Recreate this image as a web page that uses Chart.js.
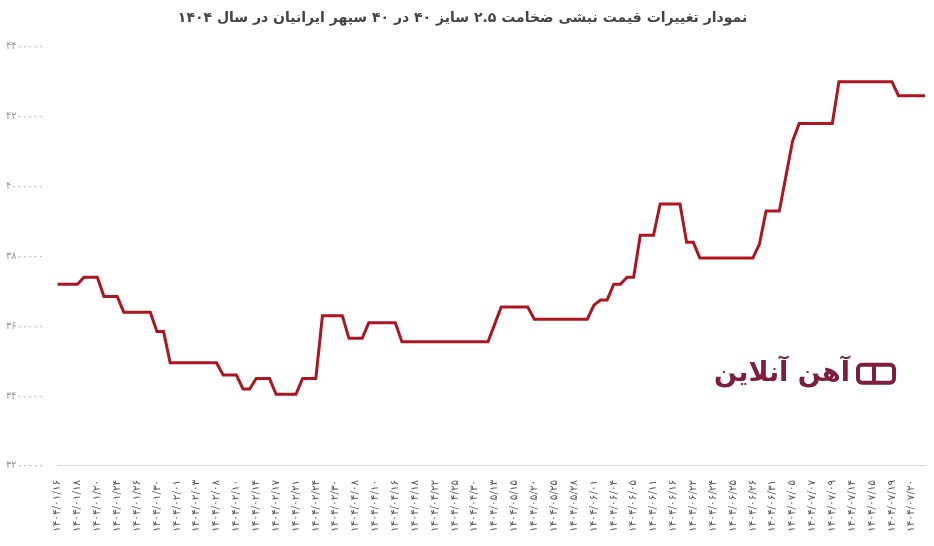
<!DOCTYPE html>
<html lang="fa">
<head>
<meta charset="utf-8">
<script src="https://cdn.jsdelivr.net/npm/chart.js@4.4.1/dist/chart.umd.min.js"></script>
<style>
  html, body { margin: 0; padding: 0; background: #fff; }
  #wrap { width: 934px; height: 546px; position: relative; }
</style>
</head>
<body>
<div id="wrap"><canvas id="priceChart"></canvas></div>
<script>
const chartTitle = 'نمودار تغییرات قیمت نبشی ضخامت ۲.۵ سایز ۴۰ در ۴۰ سپهر ایرانیان در سال ۱۴۰۴';

// one label every third reading, as printed under the axis
const tickLabels = [
    '۱۴۰۴/۰۱/۱۶', '۱۴۰۴/۰۱/۱۸', '۱۴۰۴/۰۱/۲۰', '۱۴۰۴/۰۱/۲۴', '۱۴۰۴/۰۱/۲۶',
    '۱۴۰۴/۰۱/۳۰', '۱۴۰۴/۰۲/۰۱', '۱۴۰۴/۰۲/۰۳', '۱۴۰۴/۰۲/۰۸', '۱۴۰۴/۰۲/۱۰',
    '۱۴۰۴/۰۲/۱۴', '۱۴۰۴/۰۲/۱۷', '۱۴۰۴/۰۲/۲۱', '۱۴۰۴/۰۲/۲۴', '۱۴۰۴/۰۲/۳۰',
    '۱۴۰۴/۰۴/۰۸', '۱۴۰۴/۰۴/۱۰', '۱۴۰۴/۰۴/۱۶', '۱۴۰۴/۰۴/۱۸', '۱۴۰۴/۰۴/۲۲',
    '۱۴۰۴/۰۴/۲۵', '۱۴۰۴/۰۴/۳۰', '۱۴۰۴/۰۵/۱۳', '۱۴۰۴/۰۵/۱۵', '۱۴۰۴/۰۵/۲۰',
    '۱۴۰۴/۰۵/۲۵', '۱۴۰۴/۰۵/۲۸', '۱۴۰۴/۰۶/۰۱', '۱۴۰۴/۰۶/۰۴', '۱۴۰۴/۰۶/۰۵',
    '۱۴۰۴/۰۶/۱۱', '۱۴۰۴/۰۶/۱۶', '۱۴۰۴/۰۶/۲۲', '۱۴۰۴/۰۶/۲۴', '۱۴۰۴/۰۶/۲۵',
    '۱۴۰۴/۰۶/۲۶', '۱۴۰۴/۰۶/۳۱', '۱۴۰۴/۰۷/۰۵', '۱۴۰۴/۰۷/۰۷', '۱۴۰۴/۰۷/۰۹',
    '۱۴۰۴/۰۷/۱۴', '۱۴۰۴/۰۷/۱۵', '۱۴۰۴/۰۷/۱۹', '۱۴۰۴/۰۷/۲۰'];

// price in rial
const prices = [
    3720000, 3720000, 3720000, 3720000, 3740000, 3740000, 3740000, 3685000, 3685000, 3685000,
    3640000, 3640000, 3640000, 3640000, 3640000, 3585000, 3585000, 3495000, 3495000, 3495000,
    3495000, 3495000, 3495000, 3495000, 3495000, 3460000, 3460000, 3460000, 3420000, 3420000,
    3450000, 3450000, 3450000, 3405000, 3405000, 3405000, 3405000, 3450000, 3450000, 3450000,
    3630000, 3630000, 3630000, 3630000, 3565000, 3565000, 3565000, 3610000, 3610000, 3610000,
    3610000, 3610000, 3555000, 3555000, 3555000, 3555000, 3555000, 3555000, 3555000, 3555000,
    3555000, 3555000, 3555000, 3555000, 3555000, 3555000, 3605000, 3655000, 3655000, 3655000,
    3655000, 3655000, 3620000, 3620000, 3620000, 3620000, 3620000, 3620000, 3620000, 3620000,
    3620000, 3660000, 3675000, 3675000, 3720000, 3720000, 3740000, 3740000, 3860000, 3860000,
    3860000, 3950000, 3950000, 3950000, 3950000, 3840000, 3840000, 3795000, 3795000, 3795000,
    3795000, 3795000, 3795000, 3795000, 3795000, 3795000, 3835000, 3930000, 3930000, 3930000,
    4030000, 4130000, 4180000, 4180000, 4180000, 4180000, 4180000, 4180000, 4300000, 4300000,
    4300000, 4300000, 4300000, 4300000, 4300000, 4300000, 4300000, 4260000, 4260000, 4260000,
    4260000, 4260000];

const labelStep = 3;
const faDigits = '۰۱۲۳۴۵۶۷۸۹';
const toFa = (n) => String(n).replace(/\d/g, d => faDigits[d]);

document.addEventListener('DOMContentLoaded', function() {
    Chart.defaults.font.family = '"DejaVu Sans", sans-serif';

    // categories: printed date every third point, rest left blank
    const categories = prices.map((p, i) => i % labelStep === 0 ? (tickLabels[i / labelStep] || '') : '');

    const watermark = {
        id: 'watermark',
        afterDatasetsDraw(chart) {
            const { ctx, chartArea } = chart;
            const x = chartArea.right - 55;
            const y = chartArea.top + 327;
            ctx.save();
            ctx.fillStyle = '#7e1d3c';
            ctx.strokeStyle = '#7e1d3c';
            // little box icon
            ctx.lineWidth = 4;
            ctx.beginPath();
            ctx.roundRect(x - 12, y - 9, 36, 18, 4);
            ctx.stroke();
            ctx.beginPath();
            ctx.moveTo(x + 4, y - 9);
            ctx.lineTo(x + 4, y + 9);
            ctx.stroke();
            ctx.font = 'bold 27px "DejaVu Sans"';
            ctx.textAlign = 'right';
            ctx.textBaseline = 'middle';
            ctx.direction = 'rtl';
            ctx.fillText('آهن آنلاین', x - 20, y);
            ctx.restore();
        }
    };

    new Chart(document.getElementById('priceChart').getContext('2d'), {
        type: 'line',
        data: {
            labels: categories,
            datasets: [{
                data: prices,
                borderColor: '#ad1620',
                borderWidth: 3,
                pointRadius: 0,
                tension: 0,
                fill: false
            }]
        },
        options: {
            responsive: true,
            maintainAspectRatio: false,
            animation: false,
            layout: { padding: { top: 10, right: 9, bottom: 8, left: 0 } },
            plugins: {
                legend: { display: false },
                tooltip: { enabled: false },
                title: {
                    display: true,
                    text: chartTitle,
                    color: '#444',
                    font: { size: 14, weight: 'bold' },
                    padding: { top: 0, bottom: 20 }
                }
            },
            scales: {
                x: {
                    grid: { display: false },
                    border: { color: '#d9d9d9' },
                    ticks: {
                        autoSkip: false,
                        minRotation: 90,
                        maxRotation: 90,
                        padding: 6,
                        color: '#555',
                        font: { size: 10.5 },
                        callback(value, index) {
                            return categories[index] || null;
                        }
                    }
                },
                y: {
                    min: 3200000,
                    max: 4400000,
                    grid: { display: false },
                    border: { display: false },
                    ticks: {
                        stepSize: 200000,
                        color: '#999',
                        font: { size: 10 },
                        padding: 6,
                        callback: (v) => toFa(v)
                    }
                }
            }
        },
        plugins: [watermark]
    });
});
</script>
</body>
</html>
